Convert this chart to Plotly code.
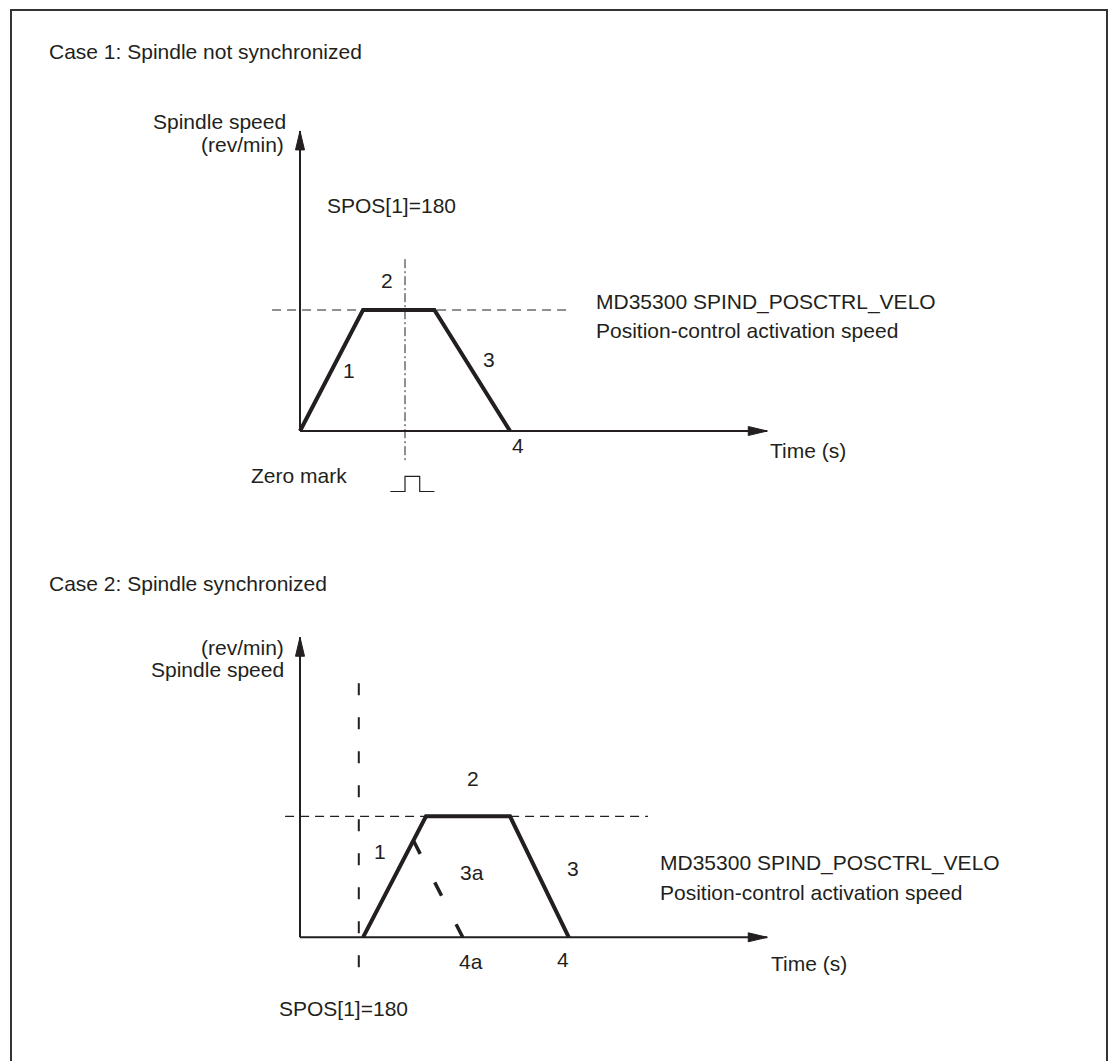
import plotly.graph_objects as go

W, H = 1111, 1061
PX_T = 21.0    # screen pixels per time unit
PX_V = 121.0   # screen pixels per speed unit
ORIGIN_X = 300
ORIGIN_Y1 = 431      # case 1 time axis (pixel row)
ORIGIN_Y2 = 937.3    # case 2 time axis
INK = "#231f20"
FONT = "Liberation Sans, Arial, sans-serif"

# Case 1: spindle not synchronized
c1_time = [0, 3.0, 6.4, 10.0]
c1_speed = [0, 1, 1, 0]
c1_spos_time = 5.0
c1_spos_span = [1.42, -0.25]
c1_pulse_time = [4.3, 5.0, 5.0, 5.7, 5.7, 6.4]
c1_pulse_level = [-0.5, -0.5, -0.375, -0.375, -0.5, -0.5]
c1_velo_span = [-1.33, 12.95]

# Case 2: spindle synchronized
c2_time = [3.0, 6.0, 10.0, 12.8]
c2_speed = [0, 1, 1, 0]
c2_3a_time = [5.4, 7.75]
c2_3a_speed = [0.8, 0]
c2_spos_time = 2.8
c2_spos_span = [2.1, -0.35]
c2_velo_span = [-0.71, 16.57]

velo = 1          # position-control activation speed
axis_time_end = 22.25
axis_speed_end = 2.48


def px(x, y):
    return x / W, 1 - y / H


def line(x, y, yaxis, width, dash="solid"):
    return go.Scatter(x=x, y=y, yaxis=yaxis, mode="lines", hoverinfo="skip",
                      line=dict(color=INK, width=width, dash=dash))


def arrow_head(x, y, direction, yaxis):
    # filled triangle, 19 px long and 9 px wide
    ln, hw = 19, 4.5
    if direction == "right":
        xs = [x, x - ln / PX_T, x - ln / PX_T, x]
        ys = [y, y + hw / PX_V, y - hw / PX_V, y]
    else:
        xs = [x, x - hw / PX_T, x + hw / PX_T, x]
        ys = [y, y - ln / PX_V, y - ln / PX_V, y]
    return go.Scatter(x=xs, y=ys, yaxis=yaxis, mode="lines", fill="toself",
                      fillcolor=INK, line=dict(color=INK, width=1), hoverinfo="skip")


fig = go.Figure()

for ya in ["y", "y2"]:
    fig.add_trace(line([0, axis_time_end], [0, 0], ya, 2))
    fig.add_trace(line([0, 0], [0, axis_speed_end], ya, 2))
    fig.add_trace(arrow_head(axis_time_end, 0, "right", ya))
    fig.add_trace(arrow_head(0, axis_speed_end, "up", ya))

# case 1
fig.add_trace(line(c1_velo_span, [velo, velo], "y", 1.2, "9px,6px"))
fig.add_trace(line([c1_spos_time, c1_spos_time], c1_spos_span, "y", 1, "9px,3px,2px,3px"))
fig.add_trace(line(c1_pulse_time, c1_pulse_level, "y", 1.2))
fig.add_trace(line(c1_time, c1_speed, "y", 4))

# case 2
fig.add_trace(line(c2_velo_span, [velo, velo], "y2", 1.2, "9px,6px"))
fig.add_trace(line([c2_spos_time, c2_spos_time], c2_spos_span, "y2", 2, "12px,22px"))
fig.add_trace(line(c2_3a_time, c2_3a_speed, "y2", 3.5, "15px,32px"))
fig.add_trace(line(c2_time, c2_speed, "y2", 4))

labels = [
    ("Case 1: Spindle not synchronized", 48, 52, "left"),
    ("Spindle speed", 287, 121, "right"),
    ("(rev/min)", 285, 145, "right"),
    ("SPOS[1]=180", 326, 205, "left"),
    ("2", 387, 280, "center"),
    ("1", 349, 370, "center"),
    ("3", 489, 359, "center"),
    ("4", 518, 445, "center"),
    ("MD35300 SPIND_POSCTRL_VELO", 595, 302, "left"),
    ("Position-control activation speed", 595, 330, "left"),
    ("Time (s)", 769, 450, "left"),
    ("Zero mark", 348, 475, "right"),
    ("Case 2: Spindle synchronized", 48, 583, "left"),
    ("(rev/min)", 285, 647, "right"),
    ("Spindle speed", 285, 669, "right"),
    ("2", 473, 778, "center"),
    ("1", 380, 851, "center"),
    ("3a", 472, 872, "center"),
    ("3", 573, 868, "center"),
    ("MD35300 SPIND_POSCTRL_VELO", 659, 863, "left"),
    ("Position-control activation speed", 659, 892, "left"),
    ("4a", 471, 961, "center"),
    ("4", 563, 959, "center"),
    ("Time (s)", 770, 963, "left"),
    ("SPOS[1]=180", 278, 1008, "left"),
]
for text, x, y, anchor in labels:
    ax, ay = px(x, y)
    fig.add_annotation(text=text, x=ax, y=ay, xref="paper", yref="paper",
                       xanchor=anchor, yanchor="middle", showarrow=False,
                       borderpad=0, font=dict(family=FONT, size=21, color=INK))

# outer frame (open at the bottom)
fx0, fy1 = px(11, 10)
fx1, _ = px(1107, 10)
fig.add_shape(type="rect", xref="paper", yref="paper", x0=fx0, x1=fx1, y0=-0.05, y1=fy1,
              line=dict(color="#333333", width=2))

fig.update_layout(
    width=W, height=H, margin=dict(l=0, r=0, t=0, b=0),
    paper_bgcolor="white", plot_bgcolor="white", showlegend=False,
    xaxis=dict(visible=False, range=[-ORIGIN_X / PX_T, (W - ORIGIN_X) / PX_T], fixedrange=True),
    yaxis=dict(visible=False, range=[-(H - ORIGIN_Y1) / PX_V, ORIGIN_Y1 / PX_V], fixedrange=True),
    yaxis2=dict(visible=False, overlaying="y",
                range=[-(H - ORIGIN_Y2) / PX_V, ORIGIN_Y2 / PX_V], fixedrange=True),
)

fig.write_html("out.html", config={"displayModeBar": False},
               post_script="document.body.style.margin='0';")
